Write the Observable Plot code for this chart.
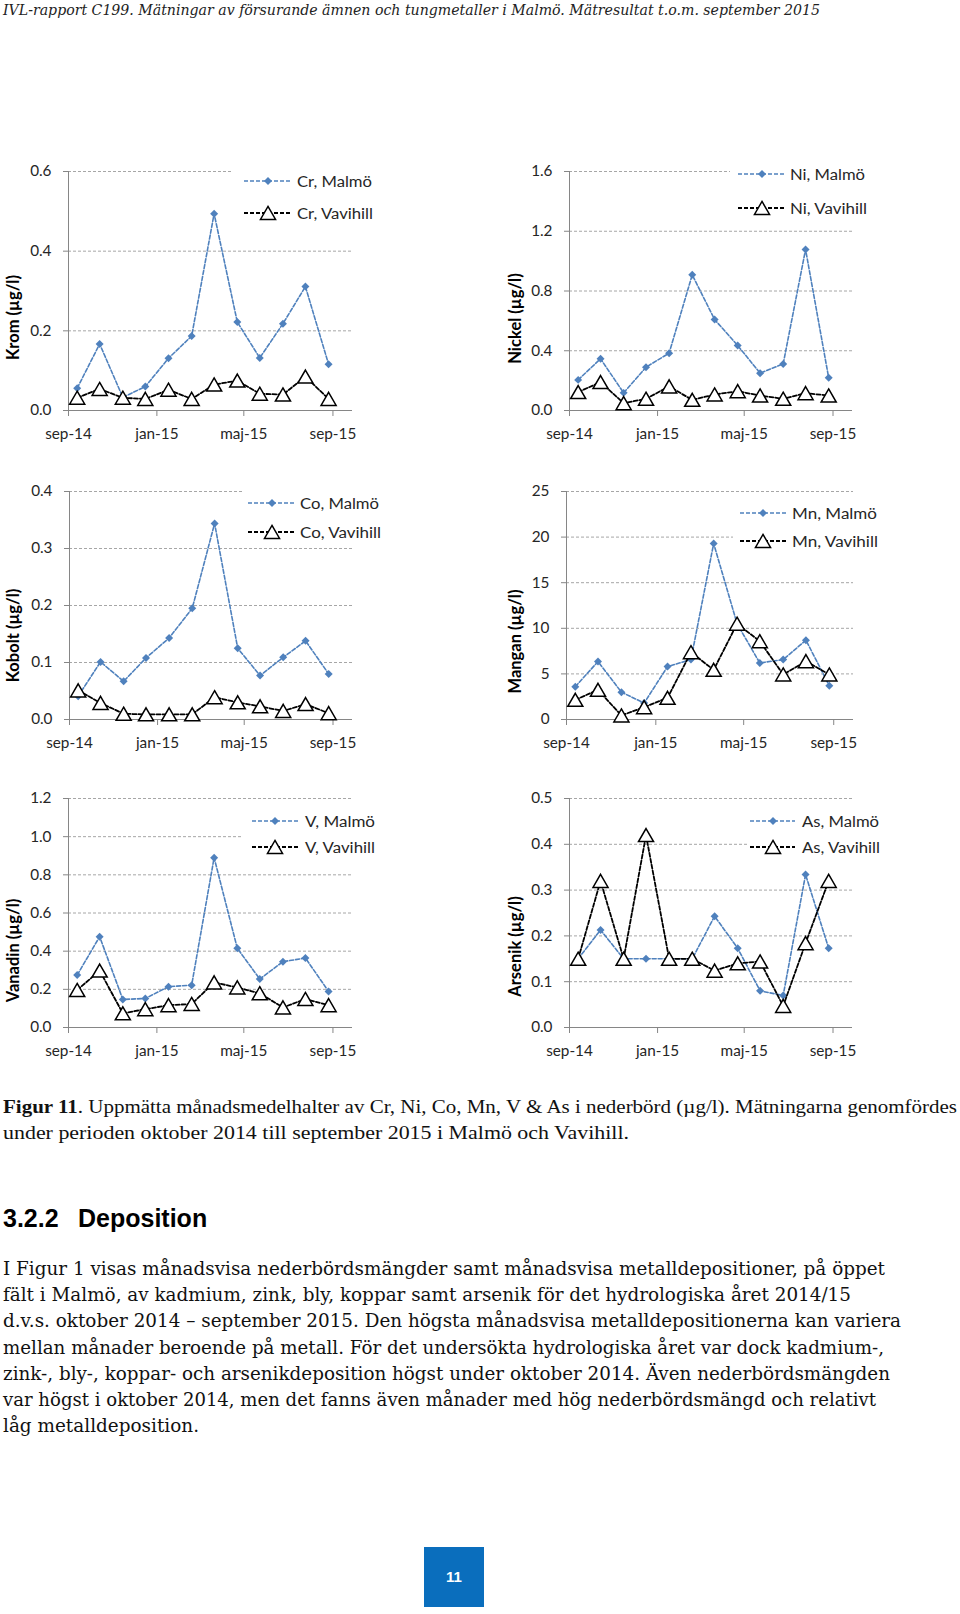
<!DOCTYPE html>
<html><head><meta charset="utf-8">
<script src="https://cdn.jsdelivr.net/npm/d3@7"></script>
<script src="https://cdn.jsdelivr.net/npm/@observablehq/plot@0.6"></script>
<style>
html,body{margin:0;padding:0;background:#fff;}
#page{position:relative;width:960px;height:1614px;overflow:hidden;background:#fff;}
</style></head><body><div id="page"></div>
<script>
// ---- data ----
const dates = ["2014-09-13","2014-10-14","2014-11-15","2014-12-16","2015-01-17","2015-02-18","2015-03-21","2015-04-22","2015-05-23","2015-06-24","2015-07-25","2015-08-26"];
const xTickDates = ["2014-09-01","2015-01-01","2015-05-01","2015-09-01"];
const xTickLabels = ["sep-14","jan-15","maj-15","sep-15"];

const crMalmo = [0.056,0.167,0.033,0.060,0.131,0.187,0.494,0.222,0.132,0.218,0.311,0.116];
const crVavi  = [0.032,0.054,0.032,0.029,0.052,0.029,0.065,0.075,0.042,0.040,0.085,0.029];
const niMalmo = [0.205,0.346,0.118,0.290,0.384,0.908,0.609,0.435,0.250,0.312,1.078,0.219];
const niVavi  = [0.123,0.190,0.049,0.078,0.161,0.071,0.107,0.129,0.100,0.078,0.116,0.100];
const coMalmo = [0.041,0.101,0.067,0.108,0.143,0.195,0.344,0.125,0.077,0.109,0.138,0.080];
const coVavi  = [0.051,0.029,0.010,0.009,0.009,0.009,0.039,0.030,0.023,0.015,0.027,0.011];
const mnMalmo = [3.6,6.35,3.0,1.8,5.8,6.57,19.3,10.5,6.2,6.57,8.7,3.7];
const mnVavi  = [2.15,3.25,0.44,1.35,2.37,7.37,5.44,10.5,8.58,4.93,6.39,4.93];
const vMalmo  = [0.275,0.476,0.147,0.152,0.214,0.222,0.890,0.415,0.254,0.345,0.364,0.189];
const vVavi   = [0.196,0.298,0.074,0.096,0.117,0.123,0.236,0.210,0.179,0.105,0.149,0.117];
const asMalmo = [0.150,0.213,0.150,0.150,0.150,0.150,0.243,0.173,0.080,0.070,0.334,0.173];
const asVavi  = [0.150,0.320,0.150,0.420,0.150,0.150,0.124,0.140,0.144,0.047,0.184,0.320];

const yTitles = ["Krom (µg/l)","Nickel (µg/l)","Kobolt (µg/l)","Mangan (µg/l)","Vanadin (µg/l)","Arsenik (µg/l)"];
const legMalmo = ["Cr, Malmö","Ni, Malmö","Co, Malmö","Mn, Malmö","V, Malmö","As, Malmö"];
const legVavi  = ["Cr, Vavihill","Ni, Vavihill","Co, Vavihill","Mn, Vavihill","V, Vavihill","As, Vavihill"];
const yTickSets = [[0,0.2,0.4,0.6],[0,0.4,0.8,1.2,1.6],[0,0.1,0.2,0.3,0.4],[0,5,10,15,20,25],[0,0.2,0.4,0.6,0.8,1.0,1.2],[0,0.1,0.2,0.3,0.4,0.5]];

const headerText = "IVL-rapport C199. Mätningar av försurande ämnen och tungmetaller i Malmö. Mätresultat t.o.m. september 2015";
const captionBold = "Figur 11";
const captionLine1 = ". Uppmätta månadsmedelhalter av Cr, Ni, Co, Mn, V & As i nederbörd (µg/l). Mätningarna genomfördes";
const captionLine2 = "under perioden oktober 2014 till september 2015 i Malmö och Vavihill.";
const headingNum = "3.2.2", headingText = "Deposition";
const paraLines = [
 "I Figur 1 visas månadsvisa nederbördsmängder samt månadsvisa metalldepositioner, på öppet",
 "fält i Malmö, av kadmium, zink, bly, koppar samt arsenik för det hydrologiska året 2014/15",
 "d.v.s. oktober 2014 – september 2015. Den högsta månadsvisa metalldepositionerna kan variera",
 "mellan månader beroende på metall. För det undersökta hydrologiska året var dock kadmium-,",
 "zink-, bly-, koppar- och arsenikdeposition högst under oktober 2014. Även nederbördsmängden",
 "var högst i oktober 2014, men det fanns även månader med hög nederbördsmängd och relativt",
 "låg metalldeposition."
];
const pageNumber = "11";

// ---- layout (styles / positions) ----
const BLUE = "#4F81BD", AXIS = "#868686", GRID = "#a6a6a6", TXT = "#262626";
const FONT = "Lato";
const layouts = [
 {L:0,   axisX:68,  gridEnd:352, yTop:171, y0:410,  ymax:0.6, fmt:".1f", titleX:13,  titleY:317, rows:[181,213], lx1:244, lx2:290, mx:268, tx:297, cover:[233,160,385,228], tl:[75,76]},
 {L:480, axisX:569, gridEnd:852, yTop:171, y0:410,  ymax:1.6, fmt:".1f", titleX:515, titleY:318, rows:[174,208], lx1:738, lx2:785, mx:762, tx:790, cover:[730,160,885,222], tl:[75,77]},
 {L:0,   axisX:69,  gridEnd:352, yTop:491, y0:719,  ymax:0.4, fmt:".1f", titleX:13,  titleY:635, rows:[503,532], lx1:248, lx2:295, mx:272, tx:300, cover:[243,484,390,543], tl:[79,81]},
 {L:480, axisX:566, gridEnd:853, yTop:491, y0:719,  ymax:25,  fmt:"d",   titleX:515, titleY:641, rows:[513,541], lx1:740, lx2:787, mx:763, tx:792, cover:[733,498,885,556], tl:[85,86]},
 {L:0,   axisX:68,  gridEnd:352, yTop:798, y0:1027, ymax:1.2, fmt:".1f", titleX:13,  titleY:950, rows:[821,847], lx1:252, lx2:298, mx:275, tx:305, cover:[243,806,385,862], tl:[70,70]},
 {L:480, axisX:569, gridEnd:852, yTop:798, y0:1027, ymax:0.5, fmt:".1f", titleX:515, titleY:946, rows:[821,847], lx1:750, lx2:795, mx:773, tx:802, cover:[747,806,890,862], tl:[77,78]}
];
const seriesM = [crMalmo,niMalmo,coMalmo,mnMalmo,vMalmo,asMalmo];
const seriesV = [crVavi,niVavi,coVavi,mnVavi,vVavi,asVavi];

const xDomain = [new Date("2014-09-01"), new Date("2015-09-28")];
const tickMap = new Map(xTickDates.map((d,i)=>[+new Date(d), xTickLabels[i]]));
const DIAMOND_R = 3.6, TRI_R = 5.6;

const page = document.getElementById("page");

layouts.forEach((c, k) => {
  const W = 470, mt = 20, mb = 50;
  const H = (c.y0 - c.yTop) + mt + mb;
  const rowsM = dates.map((d,i)=>({date:new Date(d), v:seriesM[k][i]}));
  const rowsV = dates.map((d,i)=>({date:new Date(d), v:seriesV[k][i]}));
  const ticks = yTickSets[k];
  const svg = Plot.plot({
    width: W, height: H,
    marginLeft: c.axisX - c.L, marginRight: W - (c.gridEnd - c.L), marginTop: mt, marginBottom: mb,
    style: {fontFamily: FONT, fontSize: "15.3px", color: TXT, background: "transparent", overflow: "visible"},
    x: {type: "utc", domain: xDomain},
    y: {domain: [0, c.ymax]},
    marks: [
      Plot.ruleY(ticks.slice(1), {stroke: GRID, strokeDasharray: "3,2", strokeWidth: 1}),
      Plot.ruleY([0], {stroke: AXIS, strokeWidth: 1}),
      Plot.ruleX([xDomain[0]], {stroke: AXIS, strokeWidth: 1}),
      Plot.axisY({ticks: ticks, tickFormat: d3.format(c.fmt), tickSize: 5, tickPadding: 12, stroke: AXIS, label: null}),
      Plot.axisX({ticks: xTickDates.map(d=>new Date(d)), tickFormat: d => tickMap.get(+d), tickSize: 6, tickPadding: 12, stroke: AXIS, label: null}),
      Plot.line(rowsM, {x: "date", y: "v", stroke: BLUE, strokeWidth: 1.6, strokeDasharray: "4,2"}),
      Plot.dot(rowsM, {x: "date", y: "v", symbol: "diamond2", r: DIAMOND_R, fill: BLUE, stroke: "none"}),
      Plot.line(rowsV, {x: "date", y: "v", stroke: "#000", strokeWidth: 1.8, strokeDasharray: "4,2"}),
      Plot.dot(rowsV, {x: "date", y: "v", symbol: "triangle", r: TRI_R, fill: "#fff", stroke: "#000", strokeWidth: 1.5, dy: 2.1}),
      Plot.text([yTitles[k]], {text: d => d, frameAnchor: "left", rotate: -90, textAnchor: "middle",
        dx: c.titleX - c.axisX, dy: c.titleY - (c.yTop + c.y0) / 2, fontWeight: "bold", fontSize: 16.5, fill: "#000"})
    ]
  });
  svg.style.position = "absolute";
  svg.style.left = c.L + "px";
  svg.style.top = (c.yTop - mt) + "px";
  page.appendChild(svg);
});

// ---- overlay: legends and page text ----
const ov = d3.select(page).append("svg")
  .attr("width", 960).attr("height", 1614)
  .style("position", "absolute").style("left", "0px").style("top", "0px");

const diamondPath = d3.symbol(d3.symbolDiamond2, Math.PI * DIAMOND_R * DIAMOND_R)();
const triPath = d3.symbol(d3.symbolTriangle, Math.PI * TRI_R * TRI_R)();

layouts.forEach((c, k) => {
  const g = ov.append("g");
  const [x1, y1, x2, y2] = c.cover;
  g.append("rect").attr("x", x1).attr("y", y1).attr("width", x2 - x1).attr("height", y2 - y1).attr("fill", "#fff");
  const [r1, r2] = c.rows;
  g.append("line").attr("x1", c.lx1).attr("x2", c.lx2).attr("y1", r1).attr("y2", r1)
    .attr("stroke", BLUE).attr("stroke-width", 1.6).attr("stroke-dasharray", "4,2");
  g.append("path").attr("d", diamondPath).attr("transform", `translate(${c.mx},${r1})`).attr("fill", BLUE);
  g.append("line").attr("x1", c.lx1).attr("x2", c.lx2).attr("y1", r2).attr("y2", r2)
    .attr("stroke", "#000").attr("stroke-width", 1.8).attr("stroke-dasharray", "4,2");
  g.append("path").attr("d", triPath).attr("transform", `translate(${c.mx},${r2 + 2.1})`)
    .attr("fill", "#fff").attr("stroke", "#000").attr("stroke-width", 1.5);
  [[legMalmo[k], r1, c.tl[0]], [legVavi[k], r2, c.tl[1]]].forEach(([t, y, len]) => {
    g.append("text").attr("x", c.tx).attr("y", y + 5.5).text(t)
      .attr("font-family", FONT).attr("font-size", 15.5).attr("fill", TXT)
      .attr("textLength", len).attr("lengthAdjust", "spacingAndGlyphs");
  });
});

// header
ov.append("text").attr("x", 3).attr("y", 15).text(headerText)
  .attr("font-family", "DejaVu Serif").attr("font-style", "italic").attr("font-size", 14)
  .attr("fill", "#222").attr("textLength", 817).attr("lengthAdjust", "spacingAndGlyphs");

// caption
const cap1 = ov.append("text").attr("x", 3).attr("y", 1113)
  .attr("font-family", "Liberation Serif").attr("font-size", 19).attr("fill", "#111")
  .attr("textLength", 954).attr("lengthAdjust", "spacingAndGlyphs");
cap1.append("tspan").attr("font-weight", "bold").text(captionBold);
cap1.append("tspan").text(captionLine1);
ov.append("text").attr("x", 3).attr("y", 1139).text(captionLine2)
  .attr("font-family", "Liberation Serif").attr("font-size", 19).attr("fill", "#111")
  .attr("textLength", 626).attr("lengthAdjust", "spacingAndGlyphs");

// heading
ov.append("text").attr("x", 3).attr("y", 1227).text(headingNum)
  .attr("font-family", "Liberation Sans").attr("font-weight", "bold").attr("font-size", 25).attr("fill", "#000");
ov.append("text").attr("x", 78).attr("y", 1227).text(headingText)
  .attr("font-family", "Liberation Sans").attr("font-weight", "bold").attr("font-size", 25).attr("fill", "#000");

// paragraph
const paraEnds = [885, 851, 901, 884, 890, 876, 199];
paraLines.forEach((t, i) => {
  ov.append("text").attr("x", 3).attr("y", 1275 + i * 26.2).text(t)
    .attr("font-family", "DejaVu Serif").attr("font-size", 18).attr("fill", "#111")
    .attr("textLength", paraEnds[i] - 3).attr("lengthAdjust", "spacingAndGlyphs");
});

// page number box
ov.append("rect").attr("x", 424).attr("y", 1547).attr("width", 60).attr("height", 60).attr("fill", "#0A6EBD");
ov.append("text").attr("x", 454).attr("y", 1582).attr("text-anchor", "middle").text(pageNumber)
  .attr("font-family", "Liberation Sans").attr("font-weight", "bold").attr("font-size", 15).attr("fill", "#fff");
</script>
</body></html>
